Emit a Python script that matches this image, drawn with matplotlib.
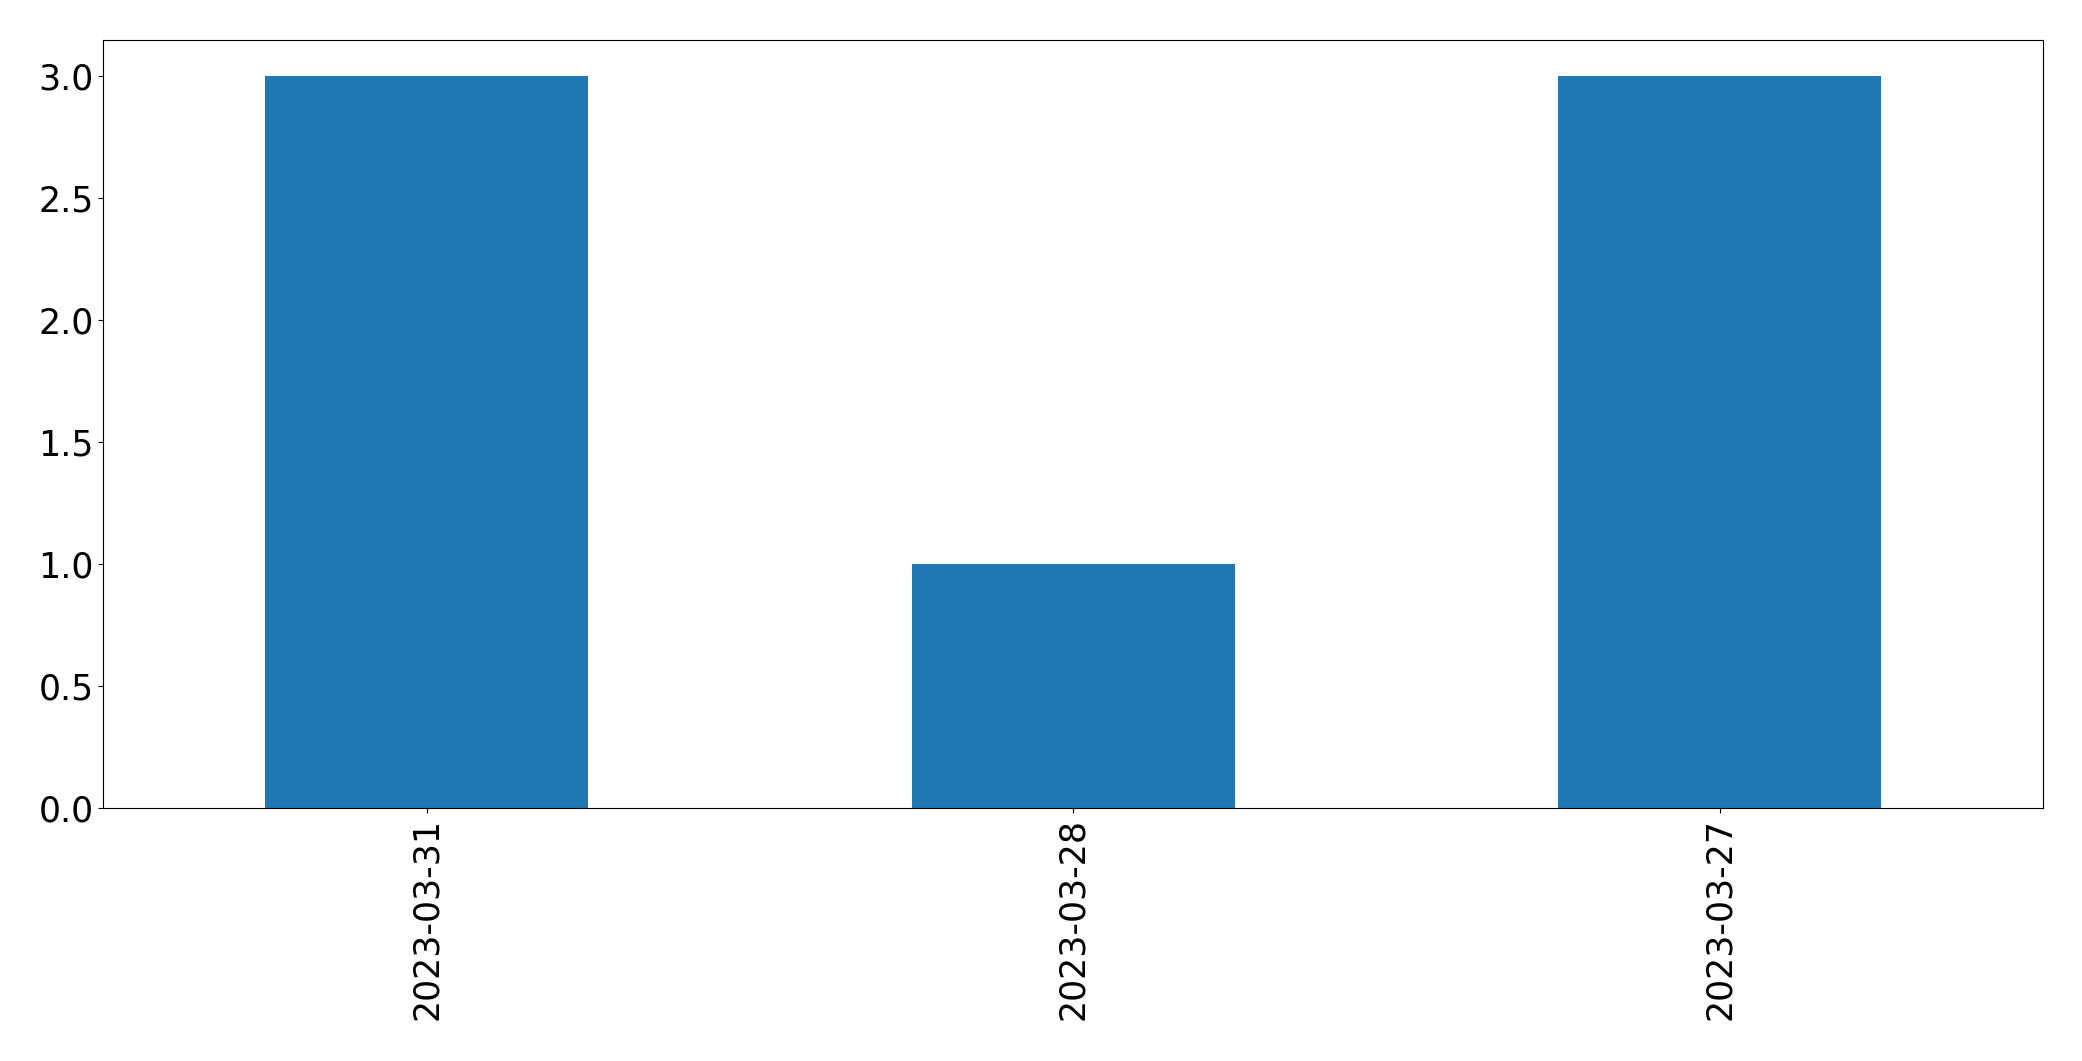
import matplotlib
matplotlib.use("Agg")
import matplotlib.pyplot as plt

# counts per date
dates = ["2023-03-31", "2023-03-28", "2023-03-27"]
counts = [3, 1, 3]

fig = plt.figure(figsize=(20.82, 10.61), dpi=100)
ax = fig.add_axes([0.0497, 0.238, 0.9315, 0.7245])

positions = list(range(len(dates)))
ax.bar(positions, counts, width=0.5, color="#1f77b4")
ax.set_xlim(-0.5, len(dates) - 0.5)
ax.set_xticks(positions)
ax.set_xticklabels(dates, rotation=90)
ax.tick_params(axis="both", labelsize=25)

fig.savefig("out.png", dpi=100)
